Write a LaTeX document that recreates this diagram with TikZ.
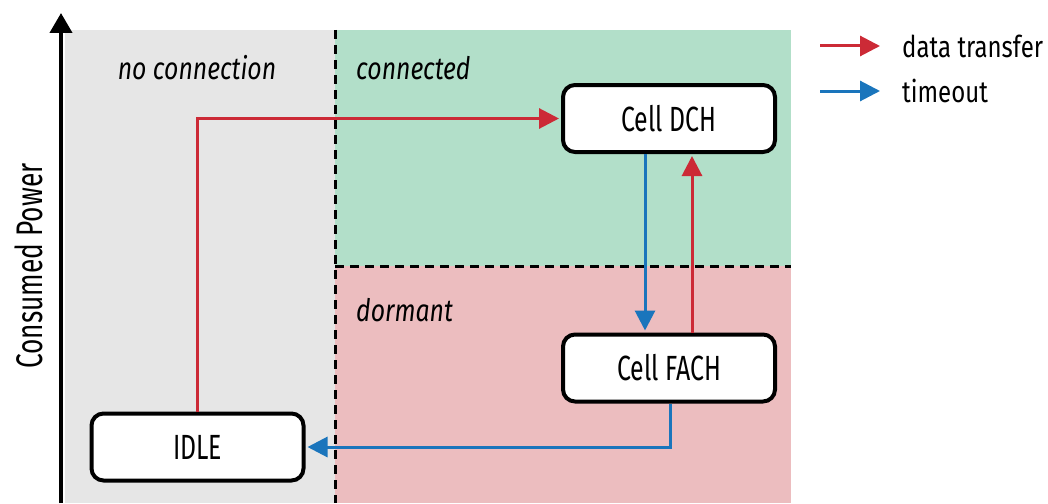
\documentclass[tikz,border=0pt]{standalone}
\usepackage{fontspec}
\setmainfont{Fira Sans}[FakeStretch=0.8]
\newfontfamily\condfont{Fira Sans}[FakeStretch=0.71]
\usetikzlibrary{arrows.meta}
\definecolor{graybg}{HTML}{E6E6E6}
\definecolor{greenbg}{HTML}{B2DFC9}
\definecolor{pinkbg}{HTML}{ECBDBF}
\definecolor{redc}{HTML}{CC2A36}
\definecolor{bluec}{HTML}{1A75BC}
\tikzset{
  state/.style={draw, line width=4pt, fill=white, rounded corners=12pt,
    minimum width=212pt, minimum height=67pt, inner sep=0pt,
    font=\condfont\fontsize{35}{35}\selectfont},
  dashline/.style={line width=3pt, dash pattern=on 9pt off 6pt},
  redarrow/.style={draw=redc, line width=3pt, -{Triangle[length=20pt,width=20pt]}},
  bluearrow/.style={draw=bluec, line width=3pt, -{Triangle[length=20pt,width=20pt]}},
  region/.style={font=\fontsize{31}{31}\selectfont\itshape, inner sep=0pt},
  legtext/.style={font=\fontsize{30}{30}\selectfont, inner sep=0pt, anchor=west},
}
\begin{document}
\begin{tikzpicture}[x=1pt,y=-1pt]
\useasboundingbox (0,0) rectangle (1048,503);
\fill[graybg] (65,30) rectangle (335,503);
\fill[greenbg] (335,30) rectangle (791,266);
\fill[pinkbg] (335,266) rectangle (791,503);
\draw[dashline] (335,30) -- (335,503);
\draw[dashline] (335,266) -- (791,266);
% axis
\coordinate (axb) at (61,503);
\coordinate (axt) at (61,13);
\draw[line width=4pt, -{Triangle[length=20pt,width=22pt]}] (axb) -- (axt);
\node[rotate=90, anchor=base, inner sep=0pt, font=\condfont\fontsize{37}{37}\selectfont] (ylab) at (42,266) {Consumed Power};
% region labels
\node[region, anchor=base] (nc) at (197,79) {no connection};
\node[region, anchor=base west] (co) at (356,79) {connected};
\node[region, anchor=base west] (do) at (356,321) {dormant};
% states
\node[state] (dch) at (669,118.5) {Cell DCH};
\node[state] (fach) at (669,368) {Cell FACH};
\node[state] (idle) at (197.5,447) {IDLE};
% connectors
\draw[redarrow, shorten >=2pt] (idle.north) |- (dch.west);
\draw[bluearrow, shorten >=2pt] ([xshift=-24pt]dch.south) -- ([xshift=-24pt]fach.north);
\draw[redarrow, shorten >=2pt] ([xshift=23pt]fach.north) -- ([xshift=23pt]dch.south);
\draw[bluearrow, shorten >=2pt] ([xshift=1pt]fach.south) |- (idle.east);
% legend
\node[legtext] (l1) at (902,46) {data transfer};
\node[legtext] (l2) at (902,91) {timeout};
\coordinate (l1s) at (820,46);
\coordinate (l2s) at (820,91);
\draw[redarrow] (l1s) -- ([xshift=-22pt]l1.west);
\draw[bluearrow] (l2s) -- ([xshift=-22pt]l2.west);
\end{tikzpicture}
\end{document}
